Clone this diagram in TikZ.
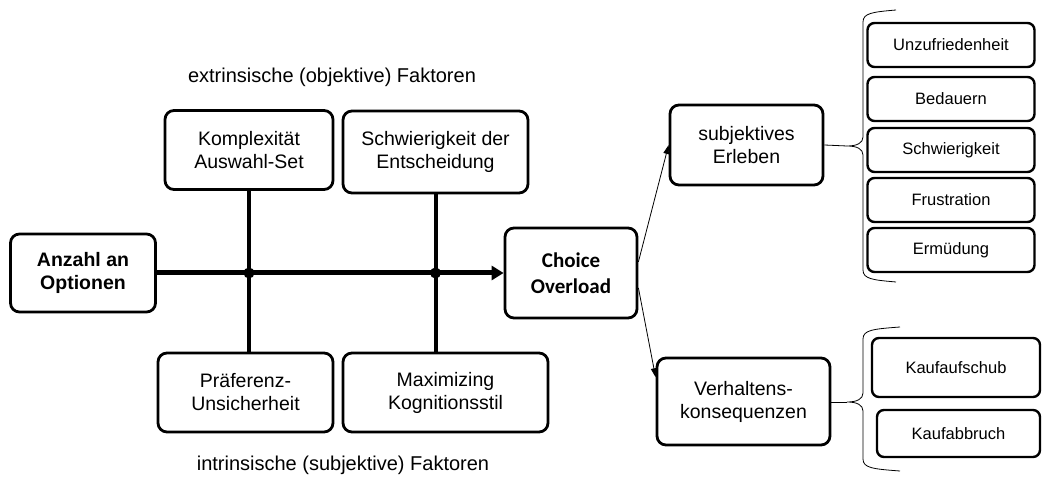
\documentclass[tikz,border=0pt]{standalone}
\usepackage{fontspec}
\setmainfont{Liberation Sans}
\newfontfamily\carlito{Carlito}
\usetikzlibrary{positioning, arrows.meta, calc}

% curly brace opening to the right: x, y top, y tip, y bottom, x of the ends
\def\klammer#1#2#3#4#5{%
    \draw[thin line]
        (#5,#2) .. controls (#1+10,#2+2) and (#1,#2+3) .. (#1,#2+12)
        -- (#1,#3-9) .. controls (#1,#3-3) and (#1-6,#3) .. (#1-16,#3)
        .. controls (#1-6,#3) and (#1,#3+3) .. (#1,#3+9)
        -- (#1,#4-12) .. controls (#1,#4-3) and (#1+10,#4-2) .. (#5,#4);
}

\begin{document}
\begin{tikzpicture}[x=1pt, y=-1pt,
    box/.style={draw, line width=2.8pt, rounded corners=9pt, align=center,
        inner sep=0pt, font=\fontsize{19.5}{23}\selectfont},
    smallbox/.style={draw, line width=2.4pt, rounded corners=7pt, align=center,
        inner sep=0pt, font=\fontsize{16.5}{19}\selectfont},
    heading/.style={font=\fontsize{20}{24}\selectfont},
    thick line/.style={line width=4pt},
    thin line/.style={line width=0.8pt},
    thin arrow/.style={thin line, -{Triangle[length=9pt, width=6pt]}}]

    \useasboundingbox (0,0) rectangle (1042,478);

    % headings
    \node[heading] (extr) at (332,77) {extrinsische (objektive) Faktoren};
    \node[heading] (intr) at (343,465) {intrinsische (subjektive) Faktoren};

    % main line
    \node[box, minimum width=145pt, minimum height=78pt] (anzahl) at (83,273)
        {\textbf{Anzahl an}\\\textbf{Optionen}};
    \node[box, minimum width=132pt, minimum height=90pt,
        font=\carlito\bfseries\fontsize{21}{26}\selectfont] (choice) at (571,273)
        {Choice\\Overload};

    % factors
    \node[box, minimum width=168pt, minimum height=79pt] (komplex) at (249,150)
        {Komplexität\\Auswahl-Set};
    \node[box, minimum width=185pt, minimum height=82pt] (schwierig) at (435.5,152)
        {Schwierigkeit der\\Entscheidung};
    \node[box, minimum width=175pt, minimum height=79pt] (praef) at (245.5,392.5)
        {Präferenz-\\Unsicherheit};
    \node[box, minimum width=205pt, minimum height=79pt] (maxim) at (445.5,392.5)
        {Maximizing\\Kognitionsstil};

    % draw vertical lines
    \draw[thick line] (komplex.south) -- (komplex.south |- praef.north);
    \draw[thick line] (schwierig.south) -- (schwierig.south |- maxim.north);

    % draw main arrow
    \draw[line width=5pt, -{Triangle[length=12pt, width=14pt]}]
        (anzahl.east) -- (choice.west);
    \fill (komplex.south |- anzahl.east) circle (5.5pt);
    \fill (schwierig.south |- anzahl.east) circle (5.5pt);

    % consequences
    \node[box, minimum width=153pt, minimum height=80pt] (erleben) at (746.5,145)
        {subjektives\\Erleben};
    \node[box, minimum width=173pt, minimum height=87pt] (verhalten) at (743.5,401.5)
        {Verhaltens-\\konsequenzen};

    \draw[thin arrow] ($(choice.north east)!0.38!(choice.south east)$) -- (erleben.west);
    \draw[thin arrow] ($(choice.north east)!0.66!(choice.south east)$)
        -- ($(verhalten.north west)!0.23!(verhalten.south west)$);

    % subjective experience
    \foreach \name/\y/\txt in {
        unzu/45/Unzufriedenheit,
        bedauern/99/Bedauern,
        schwer/150/Schwierigkeit,
        frust/200/Frustration,
        muede/250/Ermüdung}
    {
        \node[smallbox, minimum width=167pt, minimum height=44pt] (\name) at (951,\y) {\txt};
    }

    % behaviour
    \node[smallbox, minimum width=168pt, minimum height=59pt] (aufschub) at (956,367.5)
        {Kaufaufschub};
    \node[smallbox, minimum width=163pt, minimum height=47pt] (abbruch) at (958.5,433.5)
        {Kaufabbruch};

    % braces
    \coordinate (tip1) at (847,146);
    \coordinate (tip2) at (847,402);
    \draw[thin line] (erleben.east) -- (tip1);
    \draw[thin line] (verhalten.east |- tip2) -- (tip2);
    \klammer{863}{10}{146}{282}{896}
    \klammer{863}{327}{402}{471}{900}
\end{tikzpicture}
\end{document}
